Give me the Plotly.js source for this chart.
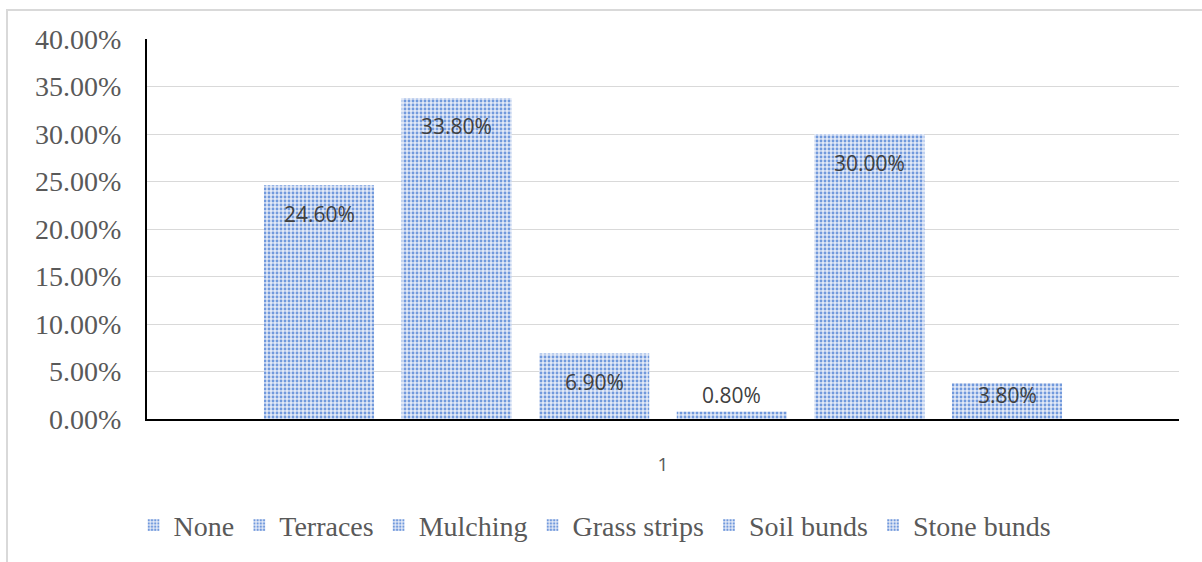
<!DOCTYPE html>
<html>
<head>
<meta charset="utf-8">
<script src="https://cdn.plot.ly/plotly-3.0.1.min.js"></script>
<style>
  html, body { margin: 0; padding: 0; background: #ffffff; }
  #frame { position: absolute; left: 6px; top: 9px; width: 1196px; height: 553px;
           border-left: 2px solid #d9d9d9; border-top: 2px solid #d9d9d9; box-sizing: border-box; }
  #chart { position: absolute; left: 0; top: 0; width: 1202px; height: 562px; }
</style>
</head>
<body>
<div id="frame"></div>
<div id="chart"></div>
<script>
// ---- data ----
const category = ['1'];
const seriesNames = ['None', 'Terraces', 'Mulching', 'Grass strips', 'Soil bunds', 'Stone bunds'];
const seriesValues = [0.246, 0.338, 0.069, 0.008, 0.300, 0.038];
const yTickValues = [0, 0.05, 0.10, 0.15, 0.20, 0.25, 0.30, 0.35, 0.40];

// ---- style ----
const bargap = 0.2;
const pattern = { shape: '.', fgcolor: '#7199dc', bgcolor: '#e2e9f7', size: 4, solidity: 0.4 };

const traces = seriesNames.map((name, i) => ({
  type: 'bar',
  name: name,
  x: category,
  y: [seriesValues[i]],
  marker: { color: '#e2e9f7', line: { width: 0 }, pattern: pattern },
  textposition: 'none',
  hoverinfo: 'none'
}));

// data labels, placed inside the top of each bar (clamped near the base like Excel)
const n = seriesNames.length;
const slot = (1 - bargap) / n;
const labelOffset = 0.03;
const labelMin = 0.025;
const annotations = seriesValues.map((v, i) => ({
  xref: 'x', yref: 'y',
  x: -(1 - bargap) / 2 + slot * (i + 0.5),
  y: Math.max(v - labelOffset, labelMin),
  text: (v * 100).toFixed(2) + '%',
  showarrow: false,
  xanchor: 'center', yanchor: 'middle',
  font: { family: '"Open Sans", "Liberation Sans", sans-serif', size: 21, color: '#404040' }
}));

const layout = {
  width: 1202, height: 562,
  margin: { l: 147, r: 23, t: 39, b: 138, pad: 0 },
  paper_bgcolor: 'rgba(0,0,0,0)',
  plot_bgcolor: 'rgba(0,0,0,0)',
  barmode: 'group',
  bargap: bargap,
  bargroupgap: 0.2,
  showlegend: true,
  legend: {
    orientation: 'h',
    x: -0.013, xanchor: 'left',
    y: -0.28, yanchor: 'middle',
    font: { family: '"Liberation Serif", "Times New Roman", serif', size: 28, color: '#595959' },
    bgcolor: 'rgba(0,0,0,0)',
    traceorder: 'normal'
  },
  xaxis: {
    type: 'category',
    range: [-0.5, 0.5],
    showline: true, linecolor: '#000000', linewidth: 2,
    showgrid: false, zeroline: false,
    ticks: '',
    ticklabelstandoff: 27,
    tickfont: { family: '"Open Sans", "Liberation Sans", sans-serif', size: 19, color: '#595959' }
  },
  yaxis: {
    range: [0, 0.4],
    tickvals: yTickValues,
    tickformat: '.2%',
    showline: true, linecolor: '#000000', linewidth: 2,
    showgrid: true, gridcolor: '#d9d9d9', gridwidth: 1,
    zeroline: false,
    ticks: '',
    ticklabelstandoff: 18,
    tickfont: { family: '"Liberation Serif", "Times New Roman", serif', size: 28, color: '#595959' }
  },
  annotations: annotations
};

Plotly.newPlot('chart', traces, layout, { displayModeBar: false, staticPlot: true });
</script>
</body>
</html>
